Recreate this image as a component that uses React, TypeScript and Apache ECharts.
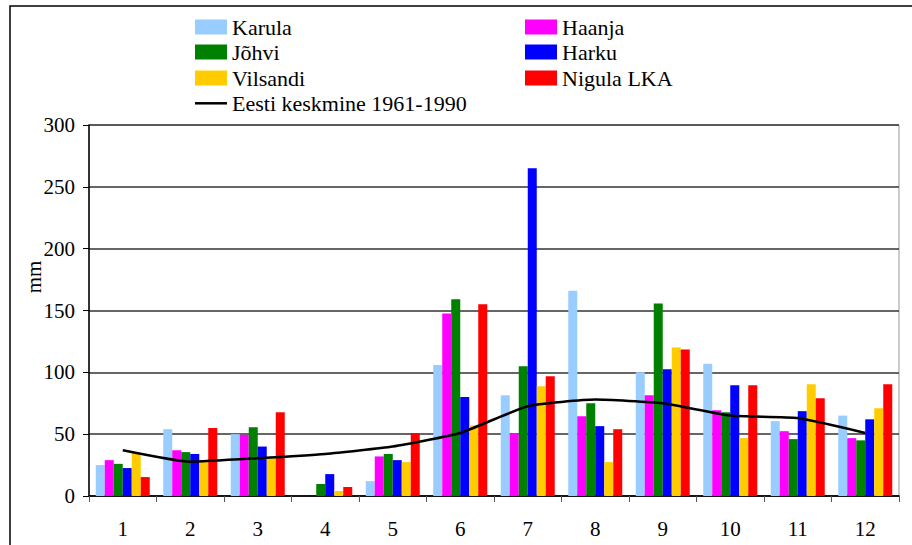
import React, { useEffect, useRef } from "react";
import * as echarts from "echarts";

const months = ["1", "2", "3", "4", "5", "6", "7", "8", "9", "10", "11", "12"];
const karula = [25, 54, 50, 0, 12, 106, 81.5, 166, 100, 107, 60.5, 65];
const haanja = [29, 37, 49.5, 0, 32, 147.6, 50.8, 64.5, 81.5, 69.4, 52.4, 46.8];
const johvi = [26, 35.5, 55.6, 9.7, 34, 159, 105, 75, 155.6, 67.7, 46, 45];
const harku = [22.6, 34, 40, 17.7, 29, 80, 265, 56.5, 102.4, 89.5, 68.6, 62];
const vilsandi = [35, 28.5, 30.6, 4, 27.4, 57, 88.7, 27.4, 120, 46.8, 90.3, 71];
const nigula = [15.3, 55, 67.7, 7.3, 50.8, 155, 96.8, 54, 118.5, 89.5, 79, 90.3];
const eestiKeskmine = [37, 27.7, 30.5, 34, 40, 51, 72.6, 78, 75, 65, 63, 51];

const barSeries = [
  { name: "Karula", data: karula, color: "#99CCFF" },
  { name: "Haanja", data: haanja, color: "#FF00FF" },
  { name: "Jõhvi", data: johvi, color: "#008000" },
  { name: "Harku", data: harku, color: "#0000FF" },
  { name: "Vilsandi", data: vilsandi, color: "#FFCC00" },
  { name: "Nigula LKA", data: nigula, color: "#FF0000" },
];
const lineName = "Eesti keskmine 1961-1990";

const FONT = "Times New Roman, Liberation Serif, DejaVu Serif, serif";

export default function App() {
  const ref = useRef<HTMLDivElement>(null);
  useEffect(() => {
    if (!ref.current) return;
    const chart = echarts.init(ref.current, null, { renderer: "svg" });
    const legendPos: [string, number, number][] = [
      ["Karula", 195, 27],
      ["Haanja", 525, 27],
      ["Jõhvi", 195, 52],
      ["Harku", 525, 52],
      ["Vilsandi", 195, 78],
      ["Nigula LKA", 525, 78],
      [lineName, 195, 103.3],
    ];
    const legends = legendPos.map(([name, left, cy]) => ({
      data: [{ name, icon: "rect" }],
      left,
      top: cy - 11,
      padding: 0,
      itemWidth: 32,
      itemHeight: name === lineName ? 2.5 : 15,
      itemGap: 0,
      textStyle: { fontFamily: FONT, fontSize: 22, color: "#000", lineHeight: 22 },
      selectedMode: false,
    }));
    chart.setOption({
      animation: false,
      backgroundColor: "#fff",
      textStyle: { fontFamily: FONT },
      legend: legends,
      grid: {
        left: 89,
        right: 13,
        top: 125,
        bottom: 49,
        show: true,
        borderColor: "#999",
        borderWidth: 1,
      },
      xAxis: {
        type: "category",
        data: months,
        axisLine: { lineStyle: { color: "#000", width: 1.5 } },
        axisTick: { show: true, length: 6, lineStyle: { color: "#555" } },
        axisLabel: { fontFamily: FONT, fontSize: 21, color: "#000", margin: 22 },
      },
      yAxis: {
        type: "value",
        min: 0,
        max: 300,
        interval: 50,
        axisLine: { show: true, lineStyle: { color: "#000", width: 1.5 } },
        axisTick: { show: true, length: 6, lineStyle: { color: "#000" } },
        axisLabel: { fontFamily: FONT, fontSize: 21, color: "#000", margin: 14 },
        splitLine: { lineStyle: { color: "#333", width: 1.5 } },
      },
      graphic: [
        {
          type: "rect",
          shape: { x: 10, y: 6, width: 940, height: 600 },
          style: { fill: "none", stroke: "#000", lineWidth: 1.5 },
          silent: true,
        },
        {
          type: "text",
          x: 34,
          y: 277,
          rotation: Math.PI / 2,
          style: {
            text: "mm",
            fontFamily: FONT,
            fontSize: 21,
            fill: "#000",
            align: "center",
            verticalAlign: "middle",
          },
        },
      ],
      series: [
        ...barSeries.map((s) => ({
          name: s.name,
          type: "bar",
          data: s.data,
          itemStyle: { color: s.color },
          barGap: "0%",
          barCategoryGap: "20%",
        })),
        {
          name: lineName,
          type: "line",
          data: eestiKeskmine,
          smooth: 0.15,
          symbol: "none",
          lineStyle: { color: "#000", width: 2.5 },
          itemStyle: { color: "#000" },
          z: 5,
        },
      ],
    });
    return () => chart.dispose();
  }, []);
  return (
    <div
      ref={ref}
      style={{ position: "fixed", left: 0, top: 0, width: 912, height: 545, fontFamily: FONT }}
    />
  );
}
